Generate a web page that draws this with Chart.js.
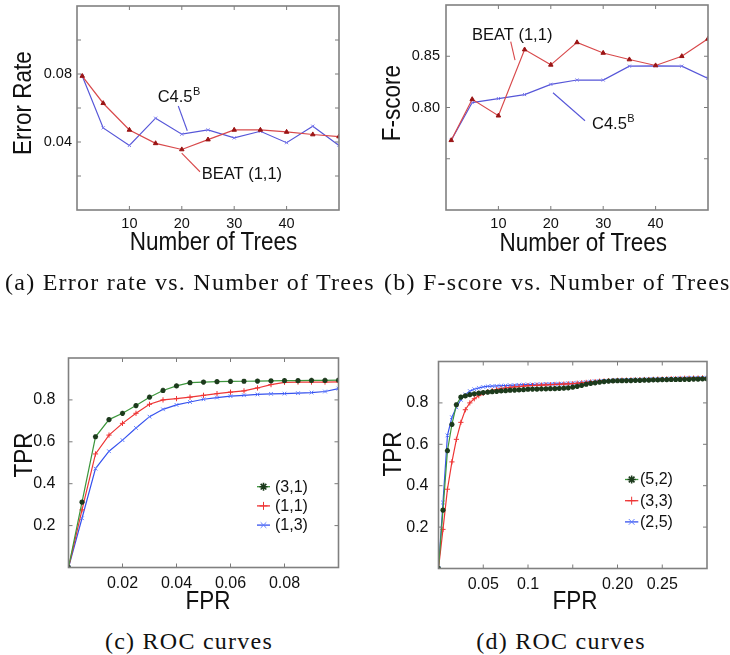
<!DOCTYPE html>
<html><head><meta charset="utf-8">
<script src="https://cdn.jsdelivr.net/npm/chart.js@4.4.1/dist/chart.umd.min.js"></script>
<style>
html,body{margin:0;padding:0;background:#fff;}
body{width:730px;height:655px;position:relative;overflow:hidden;}
canvas{position:absolute;}
.t{position:absolute;white-space:nowrap;line-height:1;color:#111;}
.ax{font-family:"Liberation Sans",Arial,sans-serif;font-size:22.5px;}
.h{transform:translateX(-50%) scaleY(1.15);}
.v{transform:translate(-50%,-50%) rotate(-90deg) scaleY(1.15);}
.cap{font-family:"Liberation Serif","Times New Roman",serif;font-size:24px;letter-spacing:1.25px;}
</style></head><body>
<canvas id="ca" width="365" height="262" style="left:0;top:0"></canvas>
<canvas id="cb" width="365" height="262" style="left:365px;top:0"></canvas>
<canvas id="cc" width="365" height="270" style="left:0;top:340px"></canvas>
<canvas id="cd" width="365" height="270" style="left:365px;top:340px"></canvas>

<div class="t ax v" style="left:23px;top:103px">Error Rate</div>
<div class="t ax h" style="left:213.5px;top:231.3px">Number of Trees</div>
<div class="t ax v" style="left:391.7px;top:103px">F-score</div>
<div class="t ax h" style="left:583.3px;top:231.8px">Number of Trees</div>
<div class="t ax v" style="left:24px;top:455px">TPR</div>
<div class="t ax h" style="left:208px;top:590.3px">FPR</div>
<div class="t ax v" style="left:392.5px;top:454px">TPR</div>
<div class="t ax h" style="left:575px;top:590.3px">FPR</div>

<div class="t cap" style="left:5px;top:270.2px">(a) Error rate vs. Number of Trees</div>
<div class="t cap" style="left:384px;top:270.2px">(b) F-score vs. Number of Trees</div>
<div class="t cap" style="left:189px;top:628.9px;transform:translateX(-50%)">(c) ROC curves</div>
<div class="t cap" style="left:561px;top:628.9px;transform:translateX(-50%)">(d) ROC curves</div>

<script>
// ---------- data ----------
const trees = [1, 5, 10, 15, 20, 25, 30, 35, 40, 45, 50];
const errBeat = [0.0788, 0.0628, 0.0471, 0.0392, 0.0356, 0.0414, 0.0471, 0.0471, 0.0459, 0.0444, 0.0432];
const errC45  = [0.0788, 0.0483, 0.0380, 0.0540, 0.0446, 0.0471, 0.0424, 0.0463, 0.0396, 0.0493, 0.0380];
const fBeat   = [0.768, 0.808, 0.792, 0.8565, 0.8416, 0.8635, 0.8532, 0.8468, 0.841, 0.850, 0.867];
const fC45    = [0.768, 0.8048, 0.8087, 0.8126, 0.8226, 0.8268, 0.8268, 0.8403, 0.8406, 0.8403, 0.8284];

const rocCFpr = [0,0.005,0.01,0.015,0.02,0.025,0.03,0.035,0.04,0.045,0.05,0.055,0.06,0.065,0.07,0.075,0.08,0.085,0.09,0.095,0.1];
const rocC31 = [0,0.312,0.624,0.706,0.736,0.773,0.813,0.845,0.867,0.882,0.885,0.887,0.888,0.889,0.890,0.891,0.892,0.892,0.893,0.893,0.894];
const rocC11 = [0,0.275,0.542,0.632,0.688,0.736,0.779,0.800,0.806,0.813,0.822,0.830,0.837,0.843,0.857,0.873,0.884,0.885,0.885,0.885,0.886];
const rocC13 = [0,0.235,0.472,0.555,0.608,0.666,0.720,0.755,0.776,0.790,0.803,0.811,0.818,0.822,0.826,0.829,0.830,0.832,0.835,0.840,0.854];

const rocDFpr = [0,0.005,0.01,0.015,0.02,0.025,0.03,0.035,0.04,0.045,0.05,0.055,0.06,0.065,0.07,0.075,0.08,0.085,0.09,0.095,0.1,0.105,0.11,0.115,0.12,0.125,0.13,0.135,0.14,0.145,0.15,0.155,0.16,0.165,0.17,0.175,0.18,0.185,0.19,0.195,0.2,0.205,0.21,0.215,0.22,0.225,0.23,0.235,0.24,0.245,0.25,0.255,0.26,0.265,0.27,0.275,0.28,0.285,0.29,0.295,0.3];
const rocD52 = [0,0.282,0.569,0.696,0.791,0.828,0.834,0.840,0.844,0.847,0.850,0.852,0.854,0.856,0.858,0.859,0.861,0.862,0.863,0.864,0.866,0.867,0.867,0.868,0.868,0.869,0.869,0.870,0.871,0.873,0.876,0.880,0.885,0.890,0.894,0.897,0.900,0.903,0.905,0.906,0.907,0.907,0.908,0.908,0.909,0.909,0.910,0.910,0.911,0.911,0.912,0.912,0.913,0.913,0.913,0.914,0.914,0.915,0.915,0.916,0.916];
const rocD33 = [0,0.189,0.383,0.515,0.624,0.706,0.767,0.800,0.820,0.835,0.846,0.854,0.860,0.865,0.869,0.872,0.875,0.877,0.879,0.881,0.883,0.884,0.885,0.886,0.887,0.888,0.889,0.890,0.891,0.892,0.893,0.895,0.897,0.899,0.901,0.903,0.905,0.906,0.907,0.908,0.909,0.910,0.910,0.911,0.911,0.912,0.913,0.913,0.914,0.915,0.915,0.916,0.917,0.917,0.918,0.919,0.919,0.920,0.920,0.921,0.921];
const rocD25 = [0,0.319,0.643,0.731,0.779,0.815,0.840,0.857,0.866,0.872,0.877,0.880,0.881,0.882,0.883,0.884,0.885,0.886,0.887,0.888,0.889,0.889,0.890,0.890,0.891,0.891,0.892,0.892,0.893,0.894,0.895,0.896,0.898,0.900,0.902,0.904,0.905,0.906,0.907,0.908,0.909,0.910,0.910,0.911,0.912,0.912,0.913,0.914,0.914,0.915,0.916,0.916,0.917,0.918,0.918,0.919,0.920,0.920,0.921,0.921,0.922];

// tick marks and labels
const treeTicks = [10, 20, 30, 40];
const treeTickLabels = ['10', '20', '30', '40'];
const errYTicks = [0.02, 0.04, 0.06, 0.08, 0.10];
const errYTickLabels = ['', '0.04', '', '0.08', ''];
const fYTicks = [0.75, 0.80, 0.85];
const fYTickLabels = ['', '0.80', '0.85'];
const rocCXTicks = [0.02, 0.04, 0.06, 0.08];
const rocCXTickLabels = ['0.02', '0.04', '0.06', '0.08'];
const rocDXTicks = [0.05, 0.10, 0.15, 0.20, 0.25];
const rocDXTickLabels = ['0.05', '0.1', '', '0.20', '0.25'];
const tprTicks = [0.2, 0.4, 0.6, 0.8];
const tprTickLabels = ['0.2', '0.4', '0.6', '0.8'];

const namesAB = ['BEAT (1,1)', 'C4.5'];
const namesC = ['(3,1)', '(1,1)', '(1,3)'];
const namesD = ['(5,2)', '(3,3)', '(2,5)'];

// ---------- helpers ----------
const pts = (xs, ys) => xs.map((x, i) => ({x, y: ys[i]}));

const frameTicks = {
  id: 'frameTicks',
  afterDatasetsDraw(chart) {
    const {ctx, chartArea: a, scales: {x, y}} = chart;
    const L = 4;
    ctx.save();
    ctx.strokeStyle = '#7a7a7a';
    ctx.lineWidth = 1;
    ctx.beginPath();
    x.ticks.forEach(t => {
      const p = x.getPixelForValue(t.value);
      if (p <= a.left + 1 || p >= a.right - 1) return;
      ctx.moveTo(p, a.bottom); ctx.lineTo(p, a.bottom - L);
      ctx.moveTo(p, a.top); ctx.lineTo(p, a.top + L);
    });
    y.ticks.forEach(t => {
      const p = y.getPixelForValue(t.value);
      if (p <= a.top + 1 || p >= a.bottom - 1) return;
      ctx.moveTo(a.left, p); ctx.lineTo(a.left + L, p);
      ctx.moveTo(a.right, p); ctx.lineTo(a.right - L, p);
    });
    ctx.stroke();
    ctx.lineWidth = 1.6;
    ctx.strokeStyle = '#808080';
    ctx.strokeRect(a.left, a.top, a.right - a.left, a.bottom - a.top);
    ctx.restore();
  }
};

const notes = {
  id: 'notes',
  afterDatasetsDraw(chart, args, opts) {
    if (!opts || !opts.items) return;
    const {ctx, scales: {x, y}} = chart;
    ctx.save();
    opts.items.forEach(n => {
      ctx.strokeStyle = n.color; ctx.lineWidth = 1.1;
      ctx.beginPath();
      ctx.moveTo(x.getPixelForValue(n.l[0]), y.getPixelForValue(n.l[1]));
      ctx.lineTo(x.getPixelForValue(n.l[2]), y.getPixelForValue(n.l[3]));
      ctx.stroke();
      const tx = x.getPixelForValue(n.tx), ty = y.getPixelForValue(n.ty);
      ctx.fillStyle = '#111';
      ctx.textBaseline = 'alphabetic'; ctx.textAlign = 'left';
      ctx.font = '16.5px "Liberation Sans", Arial, sans-serif';
      ctx.fillText(n.text, tx, ty);
      if (n.sup) {
        const w = ctx.measureText(n.text).width;
        ctx.font = '11px "Liberation Sans", Arial, sans-serif';
        ctx.fillText(n.sup, tx + w + 0.5, ty - 7);
      }
    });
    ctx.restore();
  }
};

const inlegend = {
  id: 'inlegend',
  afterDraw(chart, args, opts) {
    if (!opts || !opts.x0) return;
    const ctx = chart.ctx;
    ctx.save();
    chart.data.datasets.forEach((ds, i) => {
      const yy = opts.y0 + i * opts.dy;
      const cx = (opts.x0 + opts.x1) / 2;
      ctx.strokeStyle = ds.borderColor; ctx.lineWidth = 1.3;
      ctx.beginPath(); ctx.moveTo(opts.x0, yy); ctx.lineTo(opts.x1, yy); ctx.stroke();
      ctx.save();
      ctx.fillStyle = ds.pointBackgroundColor; ctx.strokeStyle = ds.pointBorderColor;
      ctx.lineWidth = ds.pointBorderWidth;
      Chart.helpers.drawPoint(ctx, {pointStyle: ds.pointStyle, radius: opts.r, rotation: 0, borderWidth: ds.pointBorderWidth}, cx, yy);
      ctx.restore();
      ctx.fillStyle = '#111';
      ctx.font = '16px "Liberation Sans", Arial, sans-serif';
      ctx.textBaseline = 'middle'; ctx.textAlign = 'left';
      ctx.fillText(ds.label, opts.tx, yy + 0.5);
    });
    ctx.restore();
  }
};

function scaleCfg(min, max, marks, labels, fontSize, pad, fitProp, fitVal) {
  return {
    type: 'linear', min, max,
    grid: {display: false, drawTicks: false},
    border: {display: false},
    ticks: {
      font: {size: fontSize, family: '"Liberation Sans", Arial, sans-serif'},
      color: '#111', padding: pad, autoSkip: false, maxRotation: 0, minRotation: 0,
      callback: (v) => {
        const i = marks.findIndex(m => Math.abs(m - v) < 1e-9);
        return i >= 0 ? labels[i] : '';
      }
    },
    afterBuildTicks: (s) => { s.ticks = marks.map(v => ({value: v})); },
    afterFit: (s) => {
      s[fitProp] = fitVal;
      s.paddingLeft = 0; s.paddingRight = 0; s.paddingTop = 0; s.paddingBottom = 0;
    }
  };
}

function make(id, datasets, sx, sy, pad, notesCfg, legendCfg) {
  return new Chart(document.getElementById(id), {
    type: 'line',
    data: {datasets},
    options: {
      responsive: false, animation: false, devicePixelRatio: 1,
      layout: {padding: pad},
      elements: {line: {tension: 0, borderWidth: 1.2}},
      plugins: {legend: {display: false}, tooltip: {enabled: false},
        notes: notesCfg || {}, inlegend: legendCfg || {}},
      scales: {x: sx, y: sy}
    },
    plugins: [frameTicks, notes, inlegend]
  });
}

const RED_L = '#d8494b', RED_M = '#9a1414', BLUE_L = '#5656d8', BLUE_M = '#7b7bee';

function abSets(beat, c45) {
  return [
    {label: namesAB[0], data: pts(trees, beat), borderColor: RED_L, pointStyle: 'triangle', pointRadius: 2.6,
     pointBackgroundColor: RED_M, pointBorderColor: RED_M, pointBorderWidth: 1},
    {label: namesAB[1], data: pts(trees, c45), borderColor: BLUE_L, pointStyle: 'crossRot', pointRadius: 2.2,
     pointBackgroundColor: BLUE_M, pointBorderColor: BLUE_M, pointBorderWidth: 1}
  ];
}

function rocSets(xs, g, r, b, names) {
  return [
    {label: names[0], data: pts(xs, g), borderColor: '#3c963c', pointStyle: 'star', pointRadius: 2.6,
     pointBackgroundColor: '#1c3a1c', pointBorderColor: '#1c3a1c', pointBorderWidth: 1.6},
    {label: names[1], data: pts(xs, r), borderColor: '#ee3535', pointStyle: 'cross', pointRadius: 2.6,
     pointBackgroundColor: '#ee3535', pointBorderColor: '#ee3535', pointBorderWidth: 1},
    {label: names[2], data: pts(xs, b), borderColor: '#3652ee', pointStyle: 'crossRot', pointRadius: 2.6,
     pointBackgroundColor: '#5e7bff', pointBorderColor: '#5e7bff', pointBorderWidth: 1}
  ];
}

// (a)
make('ca', abSets(errBeat, errC45),
  scaleCfg(0, 50, treeTicks, treeTickLabels, 14.5, 5, 'height', 52),
  scaleCfg(0, 0.12, errYTicks, errYTickLabels, 14.5, 5, 'width', 77),
  {left: 0, top: 6, right: 26, bottom: 0},
  {items: [
    {text: 'C4.5', sup: 'B', tx: 15.4, ty: 0.0637, l: [19.33, 0.0612, 21.05, 0.0466], color: BLUE_L},
    {text: 'BEAT (1,1)', tx: 23.8, ty: 0.0181, l: [19.98, 0.0334, 23.47, 0.0225], color: RED_L}
  ]});

// (b)
make('cb', abSets(fBeat, fC45),
  scaleCfg(0, 50, treeTicks, treeTickLabels, 14.5, 5, 'height', 52),
  scaleCfg(0.70, 0.90, fYTicks, fYTickLabels, 14.5, 6, 'width', 81),
  {left: 0, top: 5, right: 22, bottom: 0},
  {items: [
    {text: 'BEAT (1,1)', tx: 4.96, ty: 0.8659, l: [12.35, 0.8642, 13.17, 0.8463], color: RED_L},
    {text: 'C4.5', sup: 'B', tx: 27.86, ty: 0.779, l: [20.42, 0.8144, 26.53, 0.7871], color: BLUE_L}
  ]});

// (c)
make('cc', rocSets(rocCFpr, rocC31, rocC11, rocC13, namesC),
  scaleCfg(0, 0.1, rocCXTicks, rocCXTickLabels, 16, 6, 'height', 42.5),
  scaleCfg(0, 1, tprTicks, tprTickLabels, 16, 13, 'width', 68.5),
  {left: 0, top: 18, right: 26.5, bottom: 0}, null,
  {x0: 257, x1: 270, tx: 275, y0: 146.7, dy: 19.2, r: 4});

// (d)
make('cd', rocSets(rocDFpr, rocD52, rocD33, rocD25, namesD),
  scaleCfg(0, 0.3, rocDXTicks, rocDXTickLabels, 16, 6, 'height', 41.5),
  scaleCfg(0, 1, tprTicks, tprTickLabels, 16, 10, 'width', 73.5),
  {left: 0, top: 21.5, right: 23, bottom: 0}, null,
  {x0: 260, x1: 273.3, tx: 275, y0: 139.5, dy: 21.2, r: 4});
</script>
</body></html>
